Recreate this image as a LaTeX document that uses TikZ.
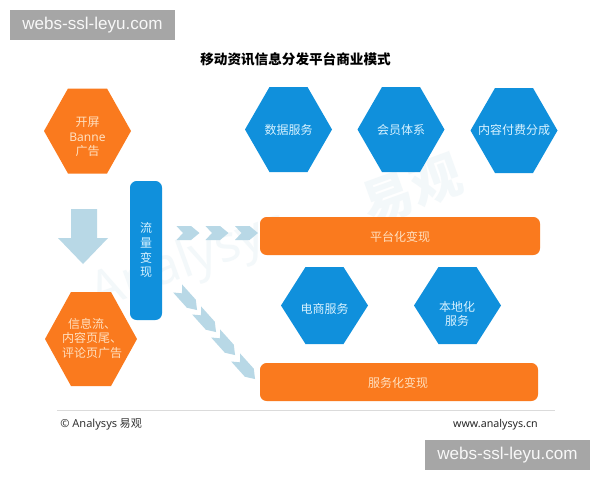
\documentclass[tikz,border=0pt]{standalone}
\usepackage{fontspec}
\setmainfont{Noto Sans CJK SC}
\newfontfamily\latinfont{Noto Sans}
\newfontfamily\tagfont{Liberation Sans}
\definecolor{hexblue}{HTML}{1090DC}
\definecolor{hexorange}{HTML}{FA7A1E}
\definecolor{txtorange}{HTML}{FFE0C0}
\definecolor{txtblue}{HTML}{D8F2FF}
\definecolor{chev}{HTML}{B8D8E6}
\definecolor{wm}{HTML}{F3F8FA}
\definecolor{tag}{HTML}{A6A6A6}
\tikzset{
  x=0.75pt,y=-0.75pt,
  lbl/.style={inner sep=0pt,align=center,font=\fontsize{9}{10.9}\selectfont},
  onblue/.style={lbl,text=txtblue},
  onorange/.style={lbl,text=txtorange},
  barbox/.style={fill=hexorange,rounded corners=5pt},
  tagbox/.style={fill=tag,inner sep=0pt,minimum width=123.75pt,minimum height=22.5pt,text=white!92!tag,font=\tagfont\fontsize{12.8}{14}\selectfont},
  wmark/.style={text=wm,inner sep=0pt,font=\bfseries\fontsize{38}{40}\selectfont,rotate=20},
  chevfill/.style={fill=chev}
}
% centre x, centre y, half width, half height, half flat top, colour
\newcommand{\hexa}[6]{\fill[#6] (#1-#3,#2) -- (#1-#5,#2-#4) -- (#1+#5,#2-#4) -- (#1+#3,#2) -- (#1+#5,#2+#4) -- (#1-#5,#2+#4) -- cycle;}
% centre x, centre y, rotation
\newcommand{\chevron}[3]{\fill[chevfill,shift={(#1,#2)},rotate=#3] (-11.5,-7) -- (3,-7) -- (11.5,0) -- (3,7) -- (-11.5,7) -- (-5,0) -- cycle;}
\newcommand{\longchev}[3]{\fill[chevfill,shift={(#1,#2)},rotate=#3] (-15.5,-6) -- (5,-6) -- (13.5,0) -- (5,6) -- (-15.5,6) -- (-9,0) -- cycle;}
\begin{document}
\begin{tikzpicture}
\useasboundingbox (0,0) rectangle (600,480);
\fill[white] (0,0) rectangle (600,480);
% watermark
\node[wmark] (wma) at (190,262) {\latinfont Analysys};
\node[wmark] (wmb) at (412,190) {易观};
% title
\node[inner sep=0pt,font=\bfseries\fontsize{10.2}{12}\selectfont] (title) at (295.5,59) {移动资讯信息分发平台商业模式};
% left column
\hexa{87.5}{131}{43.5}{42.5}{19.5}{hexorange}
\node[onorange] (banner) at (87.5,137) {开屏\\{\latinfont\bfseries Banne}\\广告};
\fill[chev] (71,209) -- (97,209) -- (97,238) -- (108,238) -- (83,264) -- (58,238) -- (71,238) -- cycle;
\hexa{91}{339}{46}{47}{20}{hexorange}
\node[onorange] (feed) at (92,338) {信息流、\\内容页尾、\\评论页广告};
% blue bar
\fill[hexblue,rounded corners=5pt] (130,181) rectangle (162,320);
\node[lbl,text=txtblue,font=\fontsize{9}{11.2}\selectfont] (flow) at (146,250) {流\\量\\变\\现};
% top hexagons
\hexa{288.5}{129.5}{43.5}{42.5}{19}{hexblue}
\node[onblue] (data) at (288.5,130) {数据服务};
\hexa{401}{129.5}{43.5}{42.5}{19}{hexblue}
\node[onblue] (member) at (401,130) {会员体系};
\hexa{514}{130.5}{43.5}{42.5}{19}{hexblue}
\node[onblue] (paid) at (514,130) {内容付费分成};
% chevrons
\chevron{188}{233}{0}
\chevron{217}{233}{0}
\chevron{246.5}{233}{0}
\longchev{188}{300}{-48}
\longchev{207}{322}{-48}
\longchev{226}{345}{-48}
\longchev{246}{369}{-48}
% bars
\fill[barbox] (260,217) rectangle (540,255);
\node[onorange] (platform) at (400,237) {平台化变现};
\fill[barbox] (260,363) rectangle (538,401);
\node[onorange] (service) at (398,383) {服务化变现};
% lower hexagons
\hexa{324.5}{305.5}{43.5}{38.5}{19}{hexblue}
\node[onblue] (shop) at (324.5,309) {电商服务};
\hexa{457.5}{305.5}{43.5}{38.5}{19}{hexblue}
\node[onblue] (local) at (457,314) {本地化\\服务};
% footer
\coordinate (fl) at (57,410);
\coordinate (fr) at (555,410);
\draw[color=black!14,line width=0.75pt] (fl) -- (fr);
\node[anchor=west,inner sep=0pt,text=black!80,font=\fontsize{8.3}{10}\selectfont] (copy) at (60,424) {{\latinfont © Analysys} 易观};
\node[anchor=east,inner sep=0pt,text=black!85,font=\latinfont\bfseries\fontsize{8}{10}\selectfont] (web) at (538,425) {www.analysys.cn};
% tags
\node[tagbox] (tagA) at (92.5,25) {webs-ssl-leyu.com};
\node[tagbox] (tagB) at (507.5,455) {webs-ssl-leyu.com};
\end{tikzpicture}
\end{document}
